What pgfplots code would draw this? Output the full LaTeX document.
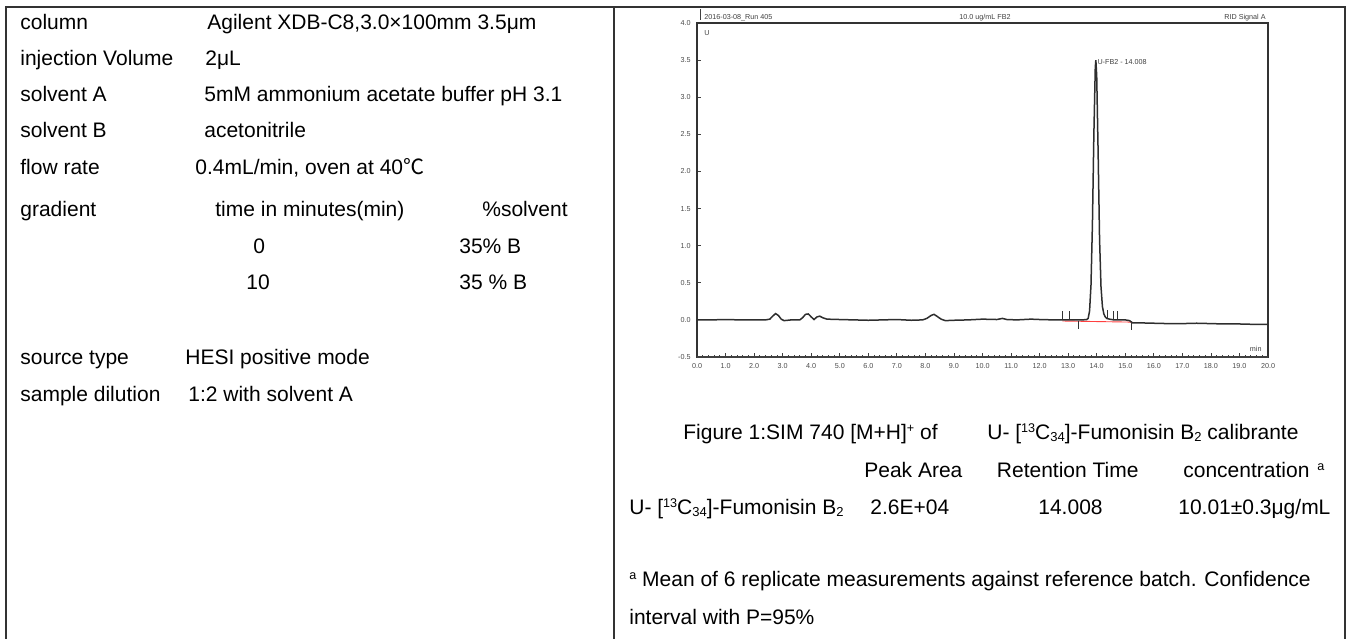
\documentclass[border=0pt]{standalone}
\usepackage{pgfplots}
\pgfplotsset{compat=1.18}
\usepackage{fontspec}
\setmainfont{Liberation Sans}
\newfontfamily\cjk{Noto Sans CJK SC}
\newcommand\sps[1]{\raisebox{3.8bp}{\fontsize{6.3bp}{6bp}\selectfont #1}}
\newcommand\sbs[1]{\raisebox{-0.8bp}{\fontsize{6.5bp}{6bp}\selectfont #1}}
\pgfplotstableread{
t y
0.0 0.00
0.5 0.00
1.0 0.005
1.5 0.00
2.0 0.00
2.4 0.00
2.55 0.01
2.65 0.05
2.75 0.085
2.85 0.06
2.95 0.01
3.05 -0.01
3.3 0.00
3.6 0.00
3.7 0.03
3.8 0.075
3.9 0.08
4.0 0.04
4.1 0.005
4.2 0.04
4.3 0.05
4.4 0.03
4.55 0.01
5.0 0.005
5.5 0.0
6.0 -0.005
6.5 0.0
7.0 0.005
7.5 -0.005
7.9 0.0
8.05 0.02
8.2 0.06
8.3 0.075
8.4 0.05
8.55 0.01
8.7 -0.01
9.0 -0.005
9.5 0.0
10.0 0.01
10.5 0.005
10.7 0.02
10.85 0.005
11.2 0.0
11.7 0.01
12.0 0.005
12.5 0.0
12.8 0.0
13.5 0.0
13.65 0.005
13.70 0.02
13.75 0.12
13.80 0.47
13.85 1.29
13.90 2.49
13.95 3.40
13.97 3.50
14.00 3.29
14.05 2.25
14.10 1.09
14.15 0.45
14.20 0.18
14.25 0.08
14.30 0.04
14.35 0.02
14.45 0.01
14.6 0.0
15.0 0.0
15.15 -0.01
15.25 -0.04
15.5 -0.04
16.0 -0.045
16.5 -0.05
17.0 -0.05
17.5 -0.045
18.0 -0.05
18.5 -0.055
19.0 -0.055
19.5 -0.06
20.0 -0.06
}\chrom
\begin{document}
\begin{tikzpicture}
\useasboundingbox (0,0) rectangle (677bp,-319.5bp);
\begin{scope}[x=0.5bp,y=-0.5bp, every node/.style={anchor=base west, inner sep=0pt, font=\fontsize{10.5bp}{12bp}\selectfont}]
\draw[line width=0.9bp, black!80] (6,639) -- (6,7) -- (1345,7) -- (1345,639);
\draw[line width=0.9bp, black!80] (614,7) -- (614,639);
% left column
\node at (20,29) {column};
\node at (207,29) {Agilent XDB-C8,3.0×100mm 3.5μm};
\node at (20,65) {injection Volume};
\node at (205,65) {2μL};
\node at (20,102) {solvent A};
\node at (204,102) {5mM ammonium acetate buffer pH 3.1};
\node at (20,138) {solvent B};
\node at (204,138) {acetonitrile};
\node at (20,175) {flow rate};
\node at (195,175) {0.4mL/min, oven at 40{\cjk ℃}};
\node at (20,217) {gradient};
\node at (215,217) {time in minutes(min)};
\node at (482,217) {\%solvent};
\node at (253,254) {0};
\node at (459,254) {35\% B};
\node at (246,290) {10};
\node at (459,290) {35 \% B};
\node at (20,365) {source type};
\node at (185,365) {HESI positive mode};
\node at (20,402) {sample dilution};
\node at (188,402) {1:2 with solvent A};
% right column
\node at (683,440) {Figure 1:SIM 740 [M+H]\sps{+} of};
\node at (987,440) {U- [\sps{13}C\sbs{34}]-Fumonisin B\sbs{2} calibrante};
\node at (864,478) {Peak Area};
\node[anchor=base east] at (1139,478) {Retention Time};
\node at (1183,478) {concentration\hspace{4bp}\sps{a}};
\node at (629,515) {U- [\sps{13}C\sbs{34}]-Fumonisin B\sbs{2}};
\node at (870,515) {2.6E+04};
\node at (1038,515) {14.008};
\node at (1178,515) {10.01±0.3μg/mL};
\node at (629,587) {\sps{a} Mean of 6 replicate measurements against reference batch. Confidence};
\node at (629,625) {interval with P=95\%};
% chart header (tiny)
\begin{scope}[every node/.style={anchor=base west, inner sep=0pt, font=\fontsize{3.6bp}{4bp}\selectfont, text=black!75}]
\draw[line width=0.5bp, black!75] (701,9) -- (701,20);
\node at (704,19) {2016-03-08\_Run 405};
\node[anchor=base] at (985,19) {10.0 ug/mL FB2};
\node[anchor=base east] at (1266,19) {RID Signal A};
\node at (704,35) {U};
\node[anchor=base east] at (1262,352) {min};
\end{scope}
\end{scope}
\begin{axis}[
  at={(348.5bp,-178.5bp)}, anchor=south west,
  width=285.5bp, height=167bp, scale only axis,
  xmin=0, xmax=20, ymin=-0.5, ymax=4,
  xtick={0,1,...,20}, minor x tick num=4,
  ytick={-0.5,0,0.5,1,1.5,2,2.5,3,3.5,4},
  xtick pos=bottom, ytick pos=left,
  tick align=inside,
  major tick length=2bp, minor tick length=1.2bp,
  every tick/.style={black!75, line width=0.4bp},
  axis line style={line width=0.6bp, black!80},
  tick label style={font=\fontsize{3.6bp}{4bp}\selectfont, text=black!70},
  /pgf/number format/assume math mode=true,
  /pgf/number format/fixed,
  /pgf/number format/fixed zerofill,
  /pgf/number format/precision=1,
  xticklabel style={yshift=0.5bp},
  yticklabel style={xshift=0.3bp},
  unbounded coords=jump,
  clip=false,
]
\draw[line width=1.3bp, black!80] (rel axis cs:0,0) -- (rel axis cs:0,1);
\draw[line width=1.2bp, black!75] (rel axis cs:0,0) -- (rel axis cs:1,0);
\addplot[red!75, line width=0.45bp] coordinates {(12.8,-0.015) (15.25,-0.03)};
\addplot[black!82, line width=0.75bp] table[x=t, y=y] {\chrom};
\addplot[black!80, line width=0.4bp] coordinates {
 (12.8,0) (12.8,0.12) (12.9,nan)
 (13.05,0) (13.05,0.12) (13.1,nan)
 (13.35,-0.02) (13.35,-0.12) (13.4,nan)
 (14.37,0.02) (14.37,0.13) (14.4,nan)
 (14.6,0.0) (14.6,0.12) (14.65,nan)
 (14.74,0.0) (14.74,0.12) (14.8,nan)
 (15.22,-0.02) (15.22,-0.13)};
\node[anchor=west, inner sep=0.5bp, font=\fontsize{3.6bp}{4bp}\selectfont, text=black!75] at (axis cs:13.98,3.47) {U-FB2 - 14.008};
\end{axis}
\end{tikzpicture}
\end{document}
